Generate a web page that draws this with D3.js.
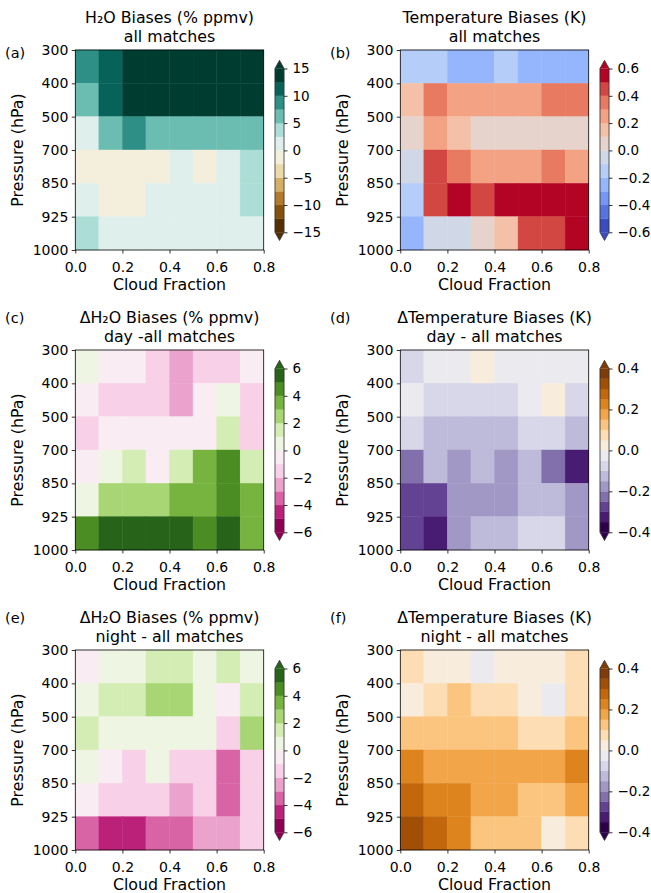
<!DOCTYPE html>
<html><head><meta charset="utf-8">
<script src="https://cdn.jsdelivr.net/npm/d3@7"></script>
<style>
body{margin:0;background:#fff}
svg{display:block}
text{font-family:"DejaVu Sans",sans-serif;fill:#000}
</style>
</head><body>
<svg id="chart" width="651" height="893"></svg>
<script>
// ---------- data ----------
const cloudFractionEdges = [0, 0.1, 0.2, 0.3, 0.4, 0.5, 0.6, 0.7, 0.8];
const cloudFractionTicks = [0, 0.2, 0.4, 0.6, 0.8];
const pressureLevels = ["300", "400", "500", "700", "850", "925", "1000"];

// rows: 300-400, 400-500, 500-700, 700-850, 850-925, 925-1000 hPa
const h2oAll = [
  [8.8, 11.2, 16.0, 17.1, 16.5, 16.8, 16.2, 15.9],
  [6.2, 11.3, 16.4, 17.0, 16.6, 16.9, 16.1, 15.8],
  [1.2, 6.3, 8.7, 6.2, 6.4, 6.1, 6.0, 6.3],
  [-1.2, -1.3, -1.1, -1.4, 1.2, -1.1, 1.3, 3.6],
  [1.1, -1.2, -1.3, 1.2, 1.4, 1.1, 1.2, 3.7],
  [3.8, 1.2, 1.3, 1.1, 1.2, 1.3, 1.1, 1.2]
];
const tempAll = [
  [-0.15, -0.14, -0.26, -0.24, -0.13, -0.25, -0.26, -0.24],
  [0.14, 0.36, 0.26, 0.25, 0.24, 0.26, 0.35, 0.34],
  [0.05, 0.24, 0.15, 0.04, 0.05, 0.04, 0.05, 0.05],
  [-0.05, 0.45, 0.35, 0.25, 0.26, 0.24, 0.36, 0.25],
  [-0.15, 0.44, 0.62, 0.45, 0.58, 0.60, 0.57, 0.61],
  [-0.26, -0.04, -0.05, 0.05, 0.15, 0.44, 0.45, 0.58]
];
const h2oDayDiff = [
  [0.5, -0.5, -0.4, -1.5, -2.5, -1.6, -1.5, -0.5],
  [-0.5, -1.5, -1.4, -1.5, -2.6, -0.5, 0.4, -1.5],
  [-1.5, -0.5, -0.4, -0.5, -0.6, -0.5, 1.5, -1.5],
  [-0.5, 0.5, 1.5, -0.5, 1.4, 3.5, 4.5, 1.5],
  [0.5, 2.5, 2.4, 2.6, 3.5, 3.4, 4.5, 3.5],
  [4.5, 5.5, 5.6, 5.5, 5.4, 4.5, 5.7, 3.5]
];
const tempDayDiff = [
  [-0.075, -0.025, -0.025, 0.025, -0.025, -0.025, -0.025, -0.025],
  [-0.025, -0.075, -0.075, -0.075, -0.075, -0.025, 0.025, -0.075],
  [-0.075, -0.125, -0.125, -0.125, -0.125, -0.075, -0.075, -0.125],
  [-0.225, -0.125, -0.175, -0.125, -0.175, -0.125, -0.225, -0.325],
  [-0.275, -0.275, -0.175, -0.175, -0.175, -0.125, -0.125, -0.175],
  [-0.275, -0.325, -0.175, -0.125, -0.125, -0.075, -0.075, -0.175]
];
const h2oNightDiff = [
  [-0.5, 0.5, 0.5, 1.5, 1.5, 0.5, 1.5, 0.5],
  [0.5, 1.5, 1.5, 2.5, 2.5, 0.5, -0.5, 1.5],
  [1.5, 0.5, 0.5, 0.5, 0.5, 0.5, -1.5, 2.5],
  [0.5, -0.5, -1.5, 0.5, -1.5, -1.5, -3.5, -1.5],
  [-0.5, -1.5, -1.5, -1.5, -2.5, -1.5, -3.5, -1.5],
  [-3.5, -4.5, -4.5, -3.5, -3.5, -2.5, -2.5, -1.5]
];
const tempNightDiff = [
  [0.075, 0.025, 0.025, -0.025, 0.025, 0.025, 0.025, 0.075],
  [0.025, 0.075, 0.125, 0.075, 0.075, 0.025, -0.025, 0.075],
  [0.125, 0.125, 0.125, 0.125, 0.125, 0.075, 0.075, 0.125],
  [0.225, 0.175, 0.175, 0.175, 0.175, 0.175, 0.175, 0.225],
  [0.275, 0.225, 0.225, 0.175, 0.175, 0.125, 0.125, 0.175],
  [0.325, 0.275, 0.225, 0.125, 0.125, 0.125, 0.025, 0.075]
];

const h2oLevels = [-15, -12.5, -10, -7.5, -5, -2.5, 0, 2.5, 5, 7.5, 10, 12.5, 15];
const h2oTicks = [-15, -10, -5, 0, 5, 10, 15];
const tempLevels = [-0.6, -0.5, -0.4, -0.3, -0.2, -0.1, 0, 0.1, 0.2, 0.3, 0.4, 0.5, 0.6];
const tempTicks = [-0.6, -0.4, -0.2, 0, 0.2, 0.4, 0.6];
const dH2OLevels = [-6, -5, -4, -3, -2, -1, 0, 1, 2, 3, 4, 5, 6];
const dH2OTicks = [-6, -4, -2, 0, 2, 4, 6];
const dTempLevels = [-0.4, -0.35, -0.3, -0.25, -0.2, -0.15, -0.1, -0.05, 0, 0.05, 0.1, 0.15, 0.2, 0.25, 0.3, 0.35, 0.4];
const dTempTicks = [-0.4, -0.2, 0, 0.2, 0.4];

// ---------- colour maps ----------
const coolwarm = d3.piecewise(d3.interpolateRgb, [
  "#3b4cc0", "#6282ea", "#8db0fe", "#b8d0f9", "#dddddd",
  "#f5c4ad", "#f49a7b", "#de604d", "#b40426"]);
const purpleToOrange = t => d3.interpolatePuOr(t);

// ---------- layout ----------
const svg = d3.select("#chart");
const colX = [75.3, 400.3];
const rowY = [50, 350, 650];
const plotW = 188.4, plotH = 200;

const panels = [
  {lab: "(a)", t1: "H\u2082O Biases (% ppmv)", t2: "all matches",
   data: h2oAll, levels: h2oLevels, ticks: h2oTicks, cmap: d3.interpolateBrBG, fmt: d3.format("d"), c: 0, r: 0, labY: 58},
  {lab: "(b)", t1: "Temperature Biases (K)", t2: "all matches",
   data: tempAll, levels: tempLevels, ticks: tempTicks, cmap: coolwarm, fmt: d3.format(".1f"), c: 1, r: 0, labY: 58},
  {lab: "(c)", t1: "\u0394H\u2082O Biases (% ppmv)", t2: "day -all matches",
   data: h2oDayDiff, levels: dH2OLevels, ticks: dH2OTicks, cmap: d3.interpolatePiYG, fmt: d3.format("d"), c: 0, r: 1, labY: 323},
  {lab: "(d)", t1: "\u0394Temperature Biases (K)", t2: "day - all matches",
   data: tempDayDiff, levels: dTempLevels, ticks: dTempTicks, cmap: purpleToOrange, fmt: d3.format(".1f"), c: 1, r: 1, labY: 323},
  {lab: "(e)", t1: "\u0394H\u2082O Biases (% ppmv)", t2: "night - all matches",
   data: h2oNightDiff, levels: dH2OLevels, ticks: dH2OTicks, cmap: d3.interpolatePiYG, fmt: d3.format("d"), c: 0, r: 2, labY: 623},
  {lab: "(f)", t1: "\u0394Temperature Biases (K)", t2: "night - all matches",
   data: tempNightDiff, levels: dTempLevels, ticks: dTempTicks, cmap: purpleToOrange, fmt: d3.format(".1f"), c: 1, r: 2, labY: 623}
];

panels.forEach(p => {
  const x0 = colX[p.c], y0 = rowY[p.r];
  const nb = p.levels.length - 1;
  const bandColors = d3.range(nb).map(k => p.cmap(k / (nb - 1)));
  const color = d3.scaleThreshold()
    .domain(p.levels)
    .range([p.cmap(0), ...bandColors, p.cmap(1)]);

  const x = d3.scaleLinear().domain([0, 0.8]).range([x0, x0 + plotW]);
  const y = d3.scalePoint().domain(pressureLevels).range([y0, y0 + plotH]);

  const g = svg.append("g");
  // cells
  p.data.forEach((row, i) => {
    row.forEach((v, j) => {
      const xa = x(cloudFractionEdges[j]), xb = x(cloudFractionEdges[j + 1]);
      const ya = y(pressureLevels[i]), yb = y(pressureLevels[i + 1]);
      g.append("rect")
        .attr("x", xa).attr("y", ya)
        .attr("width", xb - xa).attr("height", yb - ya)
        .attr("fill", color(v)).attr("stroke", color(v)).attr("stroke-width", 0.4);
    });
  });
  // frame
  g.append("rect").attr("x", x0).attr("y", y0).attr("width", plotW).attr("height", plotH)
    .attr("fill", "none").attr("stroke", "#000").attr("stroke-width", 0.8);

  // axes
  const ax = g.append("g").attr("transform", `translate(0,${y0 + plotH})`)
    .call(d3.axisBottom(x).tickValues(cloudFractionTicks).tickFormat(d3.format(".1f")).tickSize(3.5).tickPadding(8.4));
  const ay = g.append("g").attr("transform", `translate(${x0},0)`)
    .call(d3.axisLeft(y).tickSize(3.5).tickPadding(3.5));
  [ax, ay].forEach(a => {
    a.select(".domain").remove();
    a.selectAll(".tick line").attr("stroke", "#000").attr("stroke-width", 0.8);
    a.selectAll(".tick text").attr("font-size", 14).attr("font-family", "DejaVu Sans").attr("fill", "#000");
  });

  // labels
  g.append("text").attr("x", x0 + plotW / 2).attr("y", y0 + plotH + 40)
    .attr("text-anchor", "middle").attr("font-size", 15.8).text("Cloud Fraction");
  g.append("text").attr("transform", `translate(${x0 - 52},${y0 + plotH / 2}) rotate(-90)`)
    .attr("text-anchor", "middle").attr("font-size", 15.8).text("Pressure (hPa)");

  // title
  g.append("text").attr("x", x0 + plotW / 2).attr("y", y0 - 26.7)
    .attr("text-anchor", "middle").attr("font-size", 15.8).text(p.t1);
  g.append("text").attr("x", x0 + plotW / 2).attr("y", y0 - 8.3)
    .attr("text-anchor", "middle").attr("font-size", 15.8).text(p.t2);

  // panel label
  g.append("text").attr("x", x0 - 70.3).attr("y", p.labY).attr("font-size", 14.5).text(p.lab);

  // colorbar
  const cbL = x0 + plotW + 11.3, cbW = 9, cbT = y0 + 18.5, cbB = y0 + 182.3;
  const ext = 8.2;
  const cy = d3.scaleLinear().domain([p.levels[0], p.levels[nb]]).range([cbB, cbT]);
  const cb = svg.append("g");
  bandColors.forEach((c, k) => {
    cb.append("rect").attr("x", cbL).attr("y", cy(p.levels[k + 1]))
      .attr("width", cbW).attr("height", cy(p.levels[k]) - cy(p.levels[k + 1]))
      .attr("fill", c).attr("stroke", c).attr("stroke-width", 0.3);
  });
  cb.append("path").attr("d", `M${cbL},${cbT}L${cbL + cbW / 2},${cbT - ext}L${cbL + cbW},${cbT}Z`)
    .attr("fill", p.cmap(1));
  cb.append("path").attr("d", `M${cbL},${cbB}L${cbL + cbW / 2},${cbB + ext}L${cbL + cbW},${cbB}Z`)
    .attr("fill", p.cmap(0));
  cb.append("path")
    .attr("d", `M${cbL},${cbT}L${cbL + cbW / 2},${cbT - ext}L${cbL + cbW},${cbT}L${cbL + cbW},${cbB}L${cbL + cbW / 2},${cbB + ext}L${cbL},${cbB}Z`)
    .attr("fill", "none").attr("stroke", "#333").attr("stroke-width", 0.8);
  const cax = cb.append("g").attr("transform", `translate(${cbL + cbW},0)`)
    .call(d3.axisRight(cy).tickValues(p.ticks).tickFormat(p.fmt).tickSize(3.5).tickPadding(5));
  cax.select(".domain").remove();
  cax.selectAll(".tick line").attr("stroke", "#000").attr("stroke-width", 0.8);
  cax.selectAll(".tick text").attr("font-size", 13.5).attr("font-family", "DejaVu Sans").attr("fill", "#000");
});
</script>
</body></html>
